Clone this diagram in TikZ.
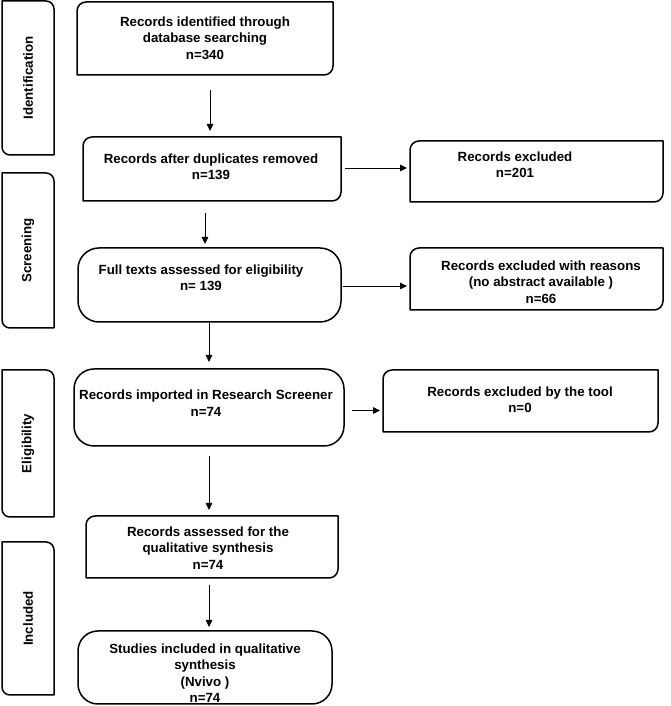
\documentclass[tikz,border=0pt]{standalone}
\usepackage{fontspec}
\setmainfont{Liberation Sans}
\usetikzlibrary{arrows.meta}
\tikzset{
  area/.style={draw=none, inner sep=0pt, outer sep=0pt},
  edge/.style={line width=1.5pt, line join=round},
  fullround/.style={area, draw, line width=1.5pt, rounded corners=20pt},
  txt/.style={align=center, inner sep=0pt, font=\fontsize{13.3}{16.5}\selectfont\bfseries},
  arr/.style={line width=0.8pt, -{Triangle[length=7pt,width=6.5pt]}}
}
\newcommand\cornTLBR[2]{%
  \draw[edge] ([yshift=-#2]#1.north west) arc[start angle=180,end angle=90,radius=#2]
    -- (#1.north east) -- ([yshift=#2]#1.south east)
    arc[start angle=0,end angle=-90,radius=#2] -- (#1.south west) -- cycle;}
\newcommand\cornTRBL[2]{%
  \draw[edge] (#1.north west) -- ([xshift=-#2]#1.north east)
    arc[start angle=90,end angle=0,radius=#2] -- (#1.south east)
    -- ([xshift=#2]#1.south west) arc[start angle=270,end angle=180,radius=#2] -- cycle;}
\begin{document}
\begin{tikzpicture}[x=1pt,y=1pt]
\useasboundingbox (0,0) rectangle (670,706);
% side phase boxes
\node[area, minimum width=52pt, minimum height=154pt] (s1) at (28,628) {};
\node[area, minimum width=52pt, minimum height=155pt] (s2) at (28,455.5) {};
\node[area, minimum width=52pt, minimum height=147pt] (s3) at (28,262.5) {};
\node[area, minimum width=52pt, minimum height=153pt] (s4) at (28,87.5) {};
\cornTRBL{s1}{8pt}
\cornTRBL{s2}{8pt}
\cornTRBL{s3}{8pt}
\cornTRBL{s4}{8pt}
\node[txt, rotate=90] at (s1.center) {Identification};
\node[txt, rotate=90] at (s2.center) {Screening};
\node[txt, rotate=90] at (s3.center) {Eligibility};
\node[txt, rotate=90] at (s4.center) {Included};
% main column
\node[area, minimum width=256pt, minimum height=73pt] (b1) at (205,667.5) {};
\node[area, minimum width=258pt, minimum height=64pt] (b2) at (212,537) {};
\node[fullround, minimum width=263pt, minimum height=74pt, rounded corners=21pt] (b3) at (209.5,421) {};
\node[fullround, minimum width=270pt, minimum height=77pt] (b4) at (209,298.5) {};
\node[area, minimum width=252pt, minimum height=62pt] (b5) at (212,159) {};
\node[fullround, minimum width=254pt, minimum height=73pt] (b6) at (205,38.5) {};
% right column
\node[area, minimum width=253pt, minimum height=61pt] (b7) at (536.5,534.5) {};
\node[area, minimum width=253pt, minimum height=62pt] (b8) at (536.5,427) {};
\node[area, minimum width=275pt, minimum height=62pt] (b9) at (520.5,305) {};
\cornTLBR{b1}{9pt}
\cornTLBR{b2}{9pt}
\cornTLBR{b5}{9pt}
\cornTLBR{b7}{9pt}
\cornTLBR{b8}{9pt}
\cornTLBR{b9}{9pt}
% texts
\node[txt] at (205,668) {Records identified through\\database searching\\n=340};
\node[txt] at (211,539) {Records after duplicates removed\\n=139};
\node[txt] at (201,428) {Full texts assessed for eligibility\\n= 139};
\node[txt] at (206,303) {Records imported in Research Screener\\n=74};
\node[txt] at (208,158) {Records assessed for the\\qualitative synthesis\\n=74};
\node[txt] at (205,33) {Studies included in qualitative\\synthesis\\(Nvivo )\\n=74};
\node[txt] at (515,541) {Records excluded\\n=201};
\node[txt] at (541,424) {Records excluded with reasons\\(no abstract available )\\n=66};
\node[txt] at (520,306) {Records excluded by the tool\\n=0};
% vertical arrows
\draw[arr, shorten <=15pt, shorten >=6pt] ([xshift=5pt]b1.south) -- ([xshift=-2pt]b2.north);
\draw[arr, shorten <=12pt, shorten >=4pt] ([xshift=-7pt]b2.south) -- ([xshift=-4.5pt]b3.north);
\draw[arr, shorten <=1pt, shorten >=7pt] ([xshift=-0.5pt]b3.south) -- (b4.north);
\draw[arr, shorten <=10pt, shorten >=6pt] (b4.south) -- ([xshift=-3pt]b5.north);
\draw[arr, shorten <=7pt, shorten >=4pt] ([xshift=-3pt]b5.south) -- ([xshift=4pt]b6.north);
% horizontal arrows
\draw[arr, shorten <=4pt, shorten >=3pt] ([yshift=1pt]b2.east) -- ([yshift=1pt]b2.east -| b7.west);
\draw[arr, shorten <=2pt, shorten >=3pt] ([yshift=-1pt]b3.east) -- ([yshift=-1pt]b3.east -| b8.west);
\draw[arr, shorten <=8pt, shorten >=3pt] ([yshift=-3pt]b4.east) -- ([yshift=-3pt]b4.east -| b9.west);
\end{tikzpicture}
\end{document}
